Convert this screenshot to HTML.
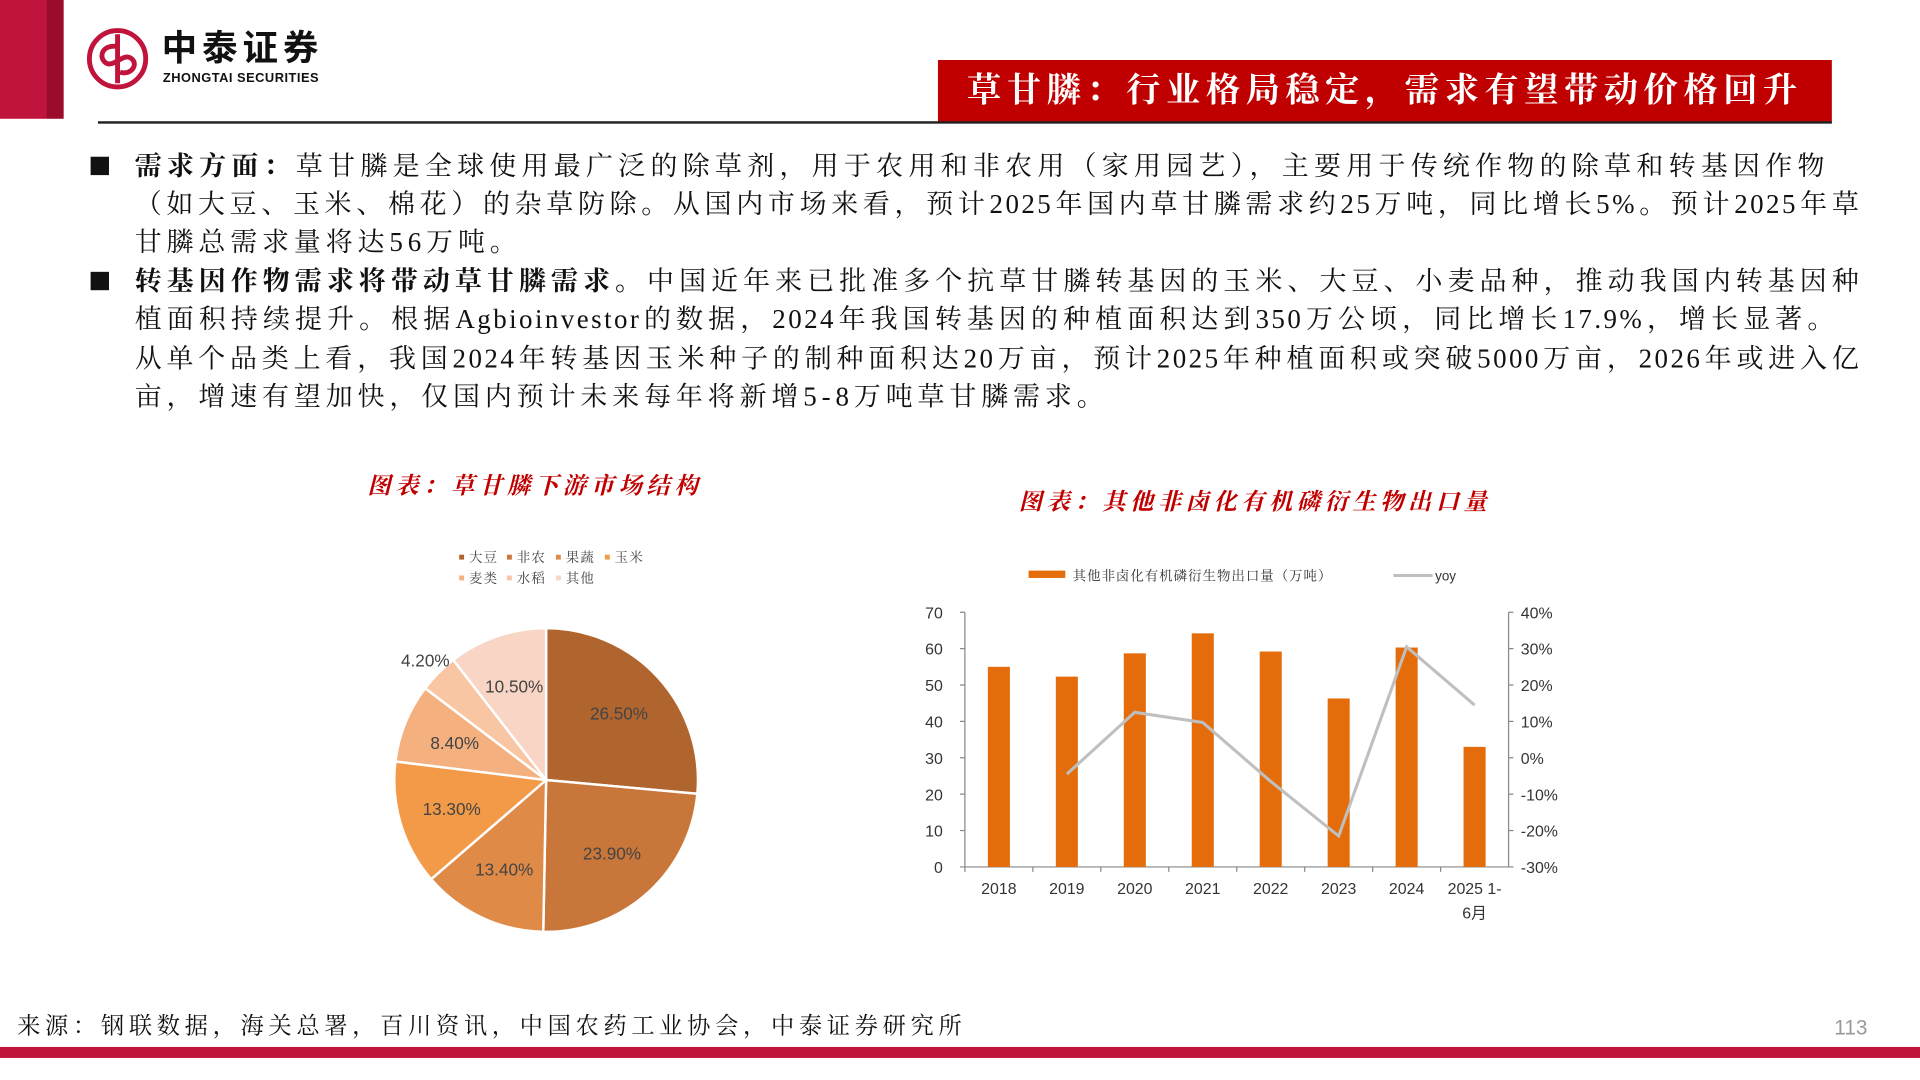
<!DOCTYPE html>
<html><head><meta charset="utf-8">
<style>
html,body{margin:0;padding:0;background:#fff;width:1920px;height:1080px;overflow:hidden}
#page{position:absolute;left:0;top:0;width:1568px;height:882px;transform-origin:0 0;transform:scale(1.22449);font-family:"Liberation Sans","Noto Sans CJK SC",sans-serif}
.abs{position:absolute}
.ln{position:absolute;left:110px;width:1410px;height:31px;font-size:22px;line-height:31px;color:#111;font-family:"Liberation Serif","Noto Serif CJK SC",serif;text-align:justify;text-align-last:justify;white-space:nowrap;letter-spacing:2px}
.ln.nj{text-align-last:left;letter-spacing:4px}
.sq{position:absolute;left:74px;width:15px;height:15px;background:#111}
.ctitle{color:#c00000;font-style:italic;font-weight:bold;font-size:19px;font-family:"Liberation Serif","Noto Serif CJK SC",serif}
</style></head><body>
<div id="page">
<div class="abs" style="left:0;top:0;width:38px;height:97px;background:#c0143c"></div>
<div class="abs" style="left:38px;top:0;width:14px;height:97px;background:#9b0c2c"></div>
<svg class="abs" style="left:70px;top:22px" width="54" height="52" viewBox="0 0 54 52">
<circle cx="26" cy="26" r="23" fill="none" stroke="#c0143c" stroke-width="4"/>
<path d="M26 6 V46 M26 16 C14 14 10 24 16 29 C22 34 30 22 36 25 C44 29 38 40 28 37" fill="none" stroke="#c0143c" stroke-width="4"/>
</svg>
<div class="abs" style="left:132px;top:24px;font-size:29px;line-height:32px;font-weight:bold;color:#111;letter-spacing:4px">中泰证券</div>
<div class="abs" style="left:133px;top:58px;font-size:10.5px;line-height:12px;font-weight:bold;color:#111;letter-spacing:0.4px">ZHONGTAI SECURITIES</div>
<div class="abs" style="left:766px;top:49px;width:730px;height:51px;background:#c00000;color:#fff;font-size:28px;font-weight:bold;line-height:51px;text-align:center;font-family:'Liberation Serif','Noto Serif CJK SC',serif;letter-spacing:4.5px">草甘膦：行业格局稳定，需求有望带动价格回升</div>
<div class="abs" style="left:80px;top:99px;width:1416px;height:2px;background:#222"></div>

<div>
<div class="sq" style="top:128px"></div>
<div class="ln" style="top:120px;width:1382px"><b>需求方面：</b>草甘膦是全球使用最广泛的除草剂，用于农用和非农用（家用园艺），主要用于传统作物的除草和转基因作物</div>
<div class="ln" style="top:151px">（如大豆、玉米、棉花）的杂草防除。从国内市场来看，预计2025年国内草甘膦需求约25万吨，同比增长5%。预计2025年草</div>
<div class="ln nj" style="top:182px">甘膦总需求量将达56万吨。</div>
<div class="sq" style="top:222px"></div>
<div class="ln" style="top:214px"><b>转基因作物需求将带动草甘膦需求。</b>中国近年来已批准多个抗草甘膦转基因的玉米、大豆、小麦品种，推动我国内转基因种</div>
<div class="ln" style="top:245px;width:1390px">植面积持续提升。根据Agbioinvestor的数据，2024年我国转基因的种植面积达到350万公顷，同比增长17.9%，增长显著。</div>
<div class="ln" style="top:277px">从单个品类上看，我国2024年转基因玉米种子的制种面积达20万亩，预计2025年种植面积或突破5000万亩，2026年或进入亿</div>
<div class="ln nj" style="top:308px">亩，增速有望加快，仅国内预计未来每年将新增5-8万吨草甘膦需求。</div>
</div>

<div class="abs ctitle" style="left:300px;top:382px;letter-spacing:3.8px">图表：草甘膦下游市场结构</div>
<div class="abs ctitle" style="left:832px;top:395px;letter-spacing:3.7px">图表：其他非卤化有机磷衍生物出口量</div>

<svg class="abs" id="pie" style="left:280px;top:440px" width="320" height="340"></svg>
<svg class="abs" id="bar" style="left:740px;top:455px" width="560" height="310"></svg>

<div class="abs" style="left:14px;top:823px;font-size:19px;color:#111;font-family:'Liberation Serif','Noto Serif CJK SC',serif;letter-spacing:3.8px">来源：钢联数据，海关总署，百川资讯，中国农药工业协会，中泰证券研究所</div>
<div class="abs" style="left:1498px;top:830px;font-size:17px;color:#999">113</div>
<div class="abs" style="left:0;top:855px;width:1568px;height:9px;background:#c0143c"></div>
</div>
<script>
const NS="http://www.w3.org/2000/svg";
function mk(p,t,a){const e=document.createElementNS(NS,t);for(const k in a)e.setAttribute(k,a[k]);p.appendChild(e);return e;}
// pie data
const pieLabels=["大豆","非农","果蔬","玉米","麦类","水稻","其他"];
const pieValues=[26.5,23.9,13.4,13.3,8.4,4.2,10.5];
const pieColors=["#b0652f","#c9763a","#e08a47","#f39a48","#f5b07f","#f8c6a3","#f8d5c5"];
// bar data
const barCats=["2018","2019","2020","2021","2022","2023","2024","2025 1-|6月"];
const barValues=[55,52.3,58.7,64.2,59.2,46.3,60.3,33];
const yoyValues=[null,-4.5,12.5,9.7,-6.5,-21.5,30.5,14.5];
const leftTicks=[0,10,20,30,40,50,60,70];
const rightTicks=[-30,-20,-10,0,10,20,30,40];

(function(){
const s=document.getElementById('pie');
const lx=[95,134,174,214],ly=[17,34];
pieLabels.forEach((l,i)=>{const r=i<4?0:1,c=i<4?i:i-4;
 const g=mk(s,'g',{});
 
 
 mk(g,'rect',{x:lx[c],y:ly[r]-4,width:4,height:4,fill:pieColors[i]});
 const t=mk(g,'text',{x:lx[c]+8,y:ly[r]+2,'font-size':11,fill:'#444','font-family':'Liberation Serif,Noto Serif CJK SC,serif','letter-spacing':1});t.textContent=l;});
const cx=166,cy=197,R=124,tot=pieValues.reduce((a,b)=>a+b,0);
let a0=-Math.PI/2;
pieValues.forEach((v,i)=>{const a1=a0+v/tot*2*Math.PI;
 const p=mk(s,'path',{d:`M${cx},${cy} L${cx+R*Math.cos(a0)},${cy+R*Math.sin(a0)} A${R},${R} 0 ${a1-a0>Math.PI?1:0} 1 ${cx+R*Math.cos(a1)},${cy+R*Math.sin(a1)} Z`,fill:pieColors[i],stroke:'#fff','stroke-width':2});
 
 
 const am=(a0+a1)/2;let rr=R*0.65;
 if(v<6){rr=R*1.12;}
 const t=mk(s,'text',{x:cx+rr*Math.cos(am),y:cy+rr*Math.sin(am)+5,'text-anchor':'middle','font-size':14,fill:'#444'});
 t.textContent=v.toFixed(2)+'%';
 a0=a1;});
})();

(function(){
const s=document.getElementById('bar');
const x0=48,x1=492,yb=253,yt=45;
const yL=v=>yb-(v/70)*(yb-yt);
const yR=v=>yb-((v+30)/70)*(yb-yt);
const bw=(x1-x0)/barCats.length;
const xc=i=>x0+bw*(i+0.5);
const lg=mk(s,'g',{});


mk(lg,'rect',{x:100,y:11,width:30,height:6,fill:'#e46c0a'});
let t=mk(lg,'text',{x:136,y:19,'font-size':11,fill:'#333','font-family':'Liberation Serif,Noto Serif CJK SC,serif','letter-spacing':0.8});t.textContent='其他非卤化有机磷衍生物出口量（万吨）';
mk(lg,'line',{x1:398,y1:15,x2:430,y2:15,stroke:'#bfbfbf','stroke-width':2.5});
t=mk(lg,'text',{x:432,y:19,'font-size':11,fill:'#333'});t.textContent='yoy';
mk(s,'line',{x1:x0,y1:yt,x2:x0,y2:yb,stroke:'#888'});
mk(s,'line',{x1:x1,y1:yt,x2:x1,y2:yb,stroke:'#888'});
mk(s,'line',{x1:x0,y1:yb,x2:x1,y2:yb,stroke:'#888'});
leftTicks.forEach(v=>{mk(s,'line',{x1:x0-4,y1:yL(v),x2:x0,y2:yL(v),stroke:'#888'});
 const e=mk(s,'text',{x:x0-18,y:yL(v)+5,'text-anchor':'end','font-size':13,fill:'#333'});e.textContent=v;});
rightTicks.forEach(v=>{mk(s,'line',{x1:x1,y1:yR(v),x2:x1+4,y2:yR(v),stroke:'#888'});
 const e=mk(s,'text',{x:x1+10,y:yR(v)+5,'font-size':13,fill:'#333'});e.textContent=v+'%';});
barCats.forEach((c,i)=>{const r=mk(s,'rect',{x:xc(i)-9,y:yL(barValues[i]),width:18,height:yb-yL(barValues[i]),fill:'#e46c0a'});
 
 
 mk(s,'line',{x1:x0+bw*i,y1:yb,x2:x0+bw*i,y2:yb+4,stroke:'#888'});
 c.split('|').forEach((p,j)=>{const e=mk(s,'text',{x:xc(i),y:yb+22+j*20,'text-anchor':'middle','font-size':13,fill:'#333','font-family':'Liberation Sans,Noto Sans CJK SC,sans-serif'});e.textContent=p;});});
let d='';yoyValues.forEach((v,i)=>{if(v===null)return;d+=(d?'L':'M')+xc(i)+','+yR(v);});
const ln=mk(s,'path',{d:d,fill:'none',stroke:'#bfbfbf','stroke-width':2.5});


})();
</script>
</body></html>
